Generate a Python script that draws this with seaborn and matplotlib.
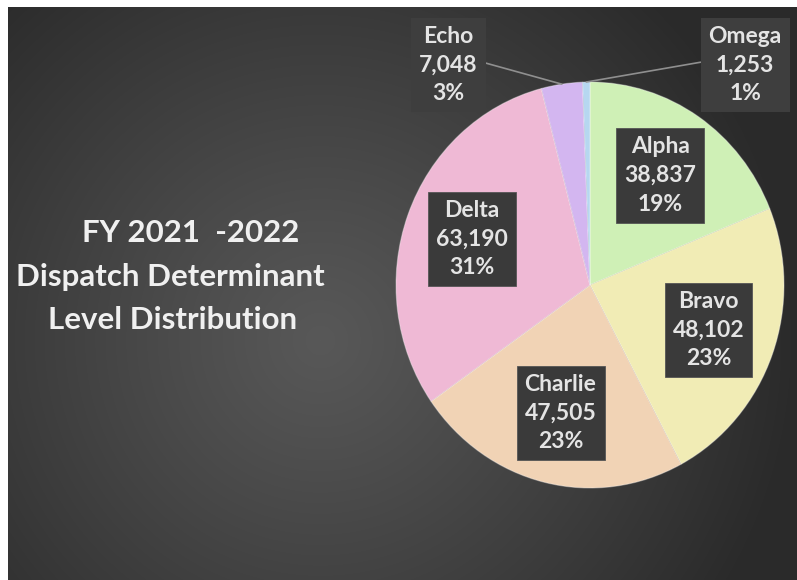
import numpy as np
import matplotlib
matplotlib.use("Agg")
import matplotlib.pyplot as plt
import seaborn as sns

sns.set_theme(style="white")
plt.rcParams['font.family'] = ['Lato', 'DejaVu Sans']

# ---- data ----
categories = ["Alpha", "Bravo", "Charlie", "Delta", "Echo", "Omega"]
counts = [38837, 48102, 47505, 63190, 7048, 1253]
colors = ["#cff0b6", "#f1ecb5", "#f1d3b5", "#efb9d5", "#d3b6f0", "#b6d7f0"]
title_lines = ["FY 2021  -2022", "Dispatch Determinant", "Level Distribution"]

W, H = 797, 580
fig = plt.figure(figsize=(W / 100, H / 100), dpi=100)

# ---- background gradient ----
bg = fig.add_axes([0, 0, 1, 1])
yy, xx = np.mgrid[0:H, 0:W]
d = np.sqrt((xx - 320.0) ** 2 + (yy - 340.0) ** 2)
v = 0x58 - (0x58 - 0x2a) * np.clip(d / 480.0, 0, 1) ** 1.1
img = np.dstack([v, v, v]) / 255.0
img[:7, :, :] = 1.0
img[:, :8, :] = 1.0
bg.imshow(img, extent=[0, W, H, 0], aspect='auto', interpolation='bilinear')
bg.set_xlim(0, W)
bg.set_ylim(H, 0)
bg.axis('off')

tx = dict(color="#f0f0f0", fontsize=22.5, fontweight='bold', ha='center', va='center')
bg.text(191, 233, title_lines[0], **tx)
bg.text(170, 277, title_lines[1], **tx)
bg.text(173, 320, title_lines[2], **tx)

# ---- pie ----
cx, cy, rx, ry = 590, 285, 194, 203
ax = fig.add_axes([(cx - rx) / W, (H - cy - ry) / H, 2 * rx / W, 2 * ry / H])
wedges, _ = ax.pie(counts, colors=colors, startangle=90, counterclock=False,
                   wedgeprops=dict(edgecolor=(1, 1, 1, 0.35), linewidth=0.8))
ax.set_aspect('auto')
ax.set_xlim(-1, 1)
ax.set_ylim(-1, 1)
ax.axis('off')

total = sum(counts)
box_in = dict(boxstyle='square,pad=0.35', facecolor='#3a3a3a', edgecolor='#555555', linewidth=0.6)
box_out = dict(boxstyle='square,pad=0.35', facecolor='#3e3e3e', edgecolor='none')
lbl = dict(color="#e4e4e4", fontsize=16.5, fontweight='bold', ha='center', va='center',
           linespacing=1.45)

outside_pos = {"Echo": (-0.73, 1.085), "Omega": (0.80, 1.085)}
for w, name, c in zip(wedges, categories, counts):
    pct = round(100 * c / total)
    text = f"{name}\n{c:,}\n{pct}%"
    mid = np.deg2rad((w.theta1 + w.theta2) / 2)
    if name in outside_pos:
        px, py = outside_pos[name]
        relx = 1.0 if px < 0 else 0.0
        ax.annotate(text, xy=(np.cos(mid), np.sin(mid)), xytext=(px, py),
                    bbox=box_out, annotation_clip=False,
                    arrowprops=dict(arrowstyle='-', color='#8f8f8f', lw=1.2,
                                    relpos=(relx, 0.55), shrinkA=0, shrinkB=0),
                    **lbl)
    else:
        r = 0.65
        ax.text(r * np.cos(mid), r * np.sin(mid), text, bbox=box_in, **lbl)

fig.savefig("out.png", dpi=100)
